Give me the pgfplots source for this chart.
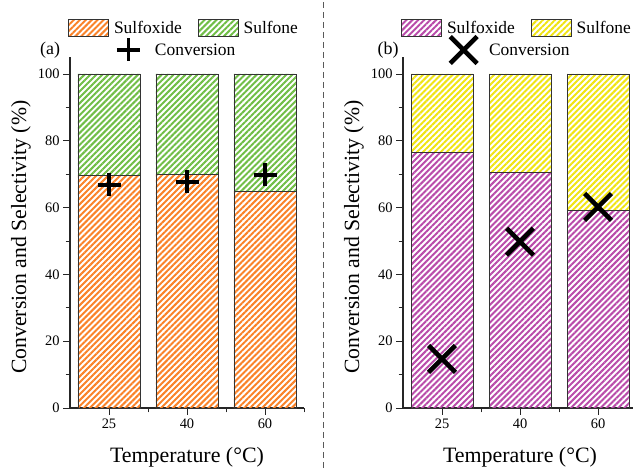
\documentclass[border=0pt]{standalone}
\usepackage{pgfplots}
\pgfplotsset{compat=1.18}
\usepackage{fontspec}
\setmainfont{Liberation Serif}
\usetikzlibrary{patterns.meta}

\definecolor{cOr}{RGB}{250,130,40}
\definecolor{cGr}{RGB}{112,190,70}
\definecolor{cPu}{RGB}{185,75,170}
\definecolor{cYe}{RGB}{240,228,20}

\pgfplotsset{
  panel/.style={
    at={(#1)}, anchor=south west, scale only axis,
    width=234bp, height=350.7bp,
    xmin=-0.5, xmax=2.5, ymin=0, ymax=105,
  },
  barpanel/.style={
    clip=false,
    axis x line*=bottom, axis y line*=left,
    ybar stacked, bar width=62bp,
    xtick={0,1,2}, xticklabels={25,40,60}, minor xtick={0.5,1.5,2.5},
    ytick={0,20,...,100}, minor ytick={10,30,...,90},
    tick align=outside, major tick length=7bp, minor tick length=4.5bp,
    tick style={black!85, line width=0.9bp},
    axis line style={line width=1.1bp, black!85},
    ticklabel style={font=\fontsize{14.5}{16}\selectfont},
    /pgf/number format/assume math mode=true,
    xlabel={Temperature (°C)},
    ylabel={Conversion and Selectivity (\%)},
    every axis x label/.style={at={(axis description cs:0.5,-0.139)}, anchor=center,
      font=\fontsize{22}{26}\selectfont},
    every axis y label/.style={at={(axis description cs:-0.2094,0.487)}, rotate=90, anchor=center,
      font=\fontsize{21.8}{26}\selectfont},
    legend columns=2,
    legend style={draw=none, fill=none, at={(axis description cs:-0.0085,1.083)}, anchor=west,
      font=\fontsize{17.5}{20}\selectfont, inner sep=0pt, nodes={inner sep=2bp},
      /tikz/every odd column/.append style={column sep=3bp},
      /tikz/every even column/.append style={column sep=14bp}},
  },
  barleg/.style={legend image code/.code={\draw[##1] (0bp,-8.5bp) rectangle (40bp,8.5bp);}},
  hatch/.style={draw=black!80, line width=0.8bp,
    pattern={Lines[angle=45,distance=4.2bp,line width=2bp]}, pattern color=#1},
  markleg/.style={legend image code/.code={\draw[##1] plot coordinates {(0bp,0bp)};}},
}

\begin{document}
\begin{tikzpicture}
\useasboundingbox (0,0) rectangle (633bp,468bp);

% ---------- panel (a) ----------
\begin{axis}[panel={70bp,60bp}, barpanel]
\addplot[hatch=cOr, barleg] coordinates {(0,69.6) (1,70.0) (2,64.8)};
\addlegendentry{Sulfoxide}
\addplot[hatch=cGr, barleg] coordinates {(0,30.4) (1,30.0) (2,35.2)};
\addlegendentry{Sulfone}
\node[font=\fontsize{18}{20}\selectfont] at (axis description cs:-0.085,1.0208) {(a)};
\end{axis}
\begin{axis}[panel={70bp,60bp}, hide axis, clip=false,
  legend style={draw=none, fill=none, at={(axis description cs:0.2,1.0208)}, anchor=west,
    font=\fontsize{17.5}{20}\selectfont, inner sep=0pt, nodes={inner sep=2bp},
    /tikz/every odd column/.append style={column sep=13bp}}]
\addplot[only marks, mark=+, mark size=11.5bp, mark options={line width=3.6bp, black}, markleg]
  coordinates {(0,66.8) (1,67.7) (2,69.8)};
\addlegendentry{Conversion}
\end{axis}

% ---------- separator ----------
\draw[black!65, line width=0.9bp, dash pattern=on 6bp off 4bp] (323bp,0bp) -- (323bp,468bp);

% ---------- panel (b) ----------
\begin{axis}[panel={403bp,60bp}, barpanel]
\addplot[hatch=cPu, barleg] coordinates {(0,76.5) (1,70.5) (2,59.1)};
\addlegendentry{Sulfoxide}
\addplot[hatch=cYe, barleg] coordinates {(0,23.5) (1,29.5) (2,40.9)};
\addlegendentry{Sulfone}
\node[font=\fontsize{18}{20}\selectfont] at (axis description cs:-0.064,1.0208) {(b)};
\end{axis}
\begin{axis}[panel={403bp,60bp}, hide axis, clip=false,
  legend style={draw=none, fill=none, at={(axis description cs:0.201,1.0208)}, anchor=west,
    font=\fontsize{17.5}{20}\selectfont, inner sep=0pt, nodes={inner sep=2bp},
    /tikz/every odd column/.append style={column sep=10bp}}]
\addplot[only marks, mark=x, mark size=19bp, mark options={line width=4.5bp, black}, markleg]
  coordinates {(0,14.7) (1,49.8) (2,60.2)};
\addlegendentry{Conversion}
\end{axis}
\end{tikzpicture}
\end{document}
